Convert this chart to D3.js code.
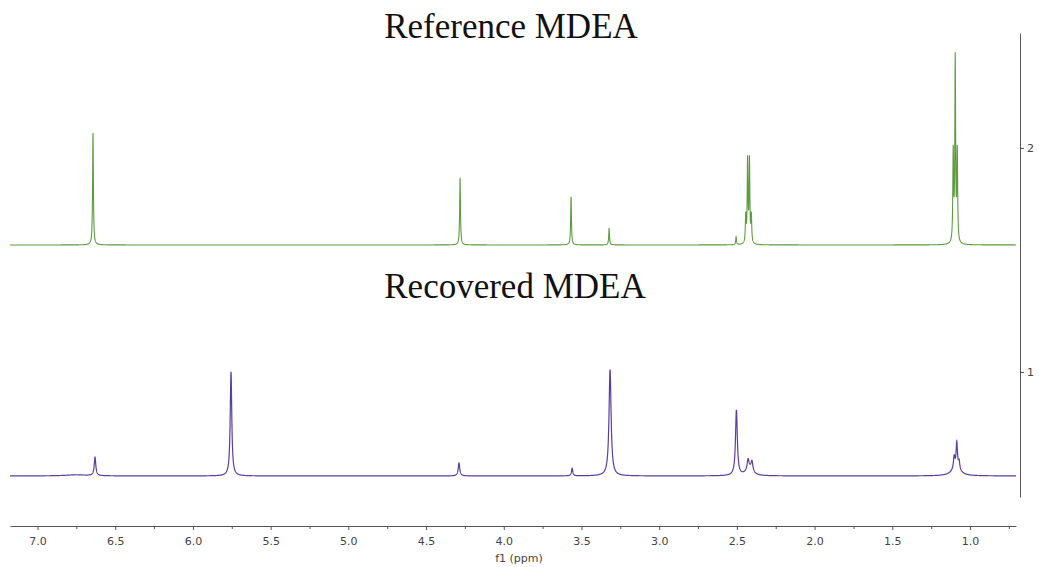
<html>
<head>
<script src="https://d3js.org/d3.v7.min.js"></script>
<style>
  body { margin: 0; background: white; }
  .title { font-family: "Liberation Serif", "Times New Roman", serif; font-size: 35px; fill: #111; }
  .axis text { font-family: "DejaVu Sans", Verdana, sans-serif; font-size: 11px; fill: #444; }
  .axis path, .axis line { stroke: #555; }
</style>
</head>
<body>
<svg width="1039" height="567"></svg>
<script>
// peak lists (ppm, height in right-axis units, half width in ppm)
var refPpm    = [6.643, 4.281, 3.567, 3.322, 2.505, 2.443, 2.431, 2.419, 2.407, 1.108, 1.095, 1.082];
var refHeight = [0.50, 0.30, 0.215, 0.075, 0.035, 0.12, 0.37, 0.37, 0.12, 0.40, 0.82, 0.40];
var refWidth  = [0.003, 0.003, 0.003, 0.003, 0.003, 0.003, 0.003, 0.003, 0.003, 0.003, 0.003, 0.003];
var refBase = 1.567;

var recPpm    = [6.630, 5.755, 4.288, 3.560, 3.316, 2.503, 2.428, 2.403, 2.420, 1.102, 1.085, 1.070, 1.090, 6.75];
var recHeight = [0.082, 0.465, 0.058, 0.034, 0.475, 0.292, 0.045, 0.045, 0.030, 0.050, 0.110, 0.035, 0.040, 0.005];
var recWidth  = [0.006, 0.006, 0.006, 0.005, 0.008, 0.007, 0.007, 0.007, 0.025, 0.005, 0.005, 0.005, 0.030, 0.08];
var recBase = 0.536;

var xTicks = [7.0, 6.5, 6.0, 5.5, 5.0, 4.5, 4.0, 3.5, 3.0, 2.5, 2.0, 1.5, 1.0];
var xMinor = [7.25, 6.75, 6.25, 5.75, 5.25, 4.75, 4.25, 3.75, 3.25, 2.75, 2.25, 1.75, 1.25, 0.75];
var yTicks = [1, 2];
var titles = ["Reference MDEA", "Recovered MDEA"];

var svg = d3.select("svg");
var x = d3.scaleLinear().domain([7.177, 0.704]).range([10, 1016]);
var y = d3.scaleLinear().domain([0.442, 2.513]).range([497, 33]);

function trace(ppm, height, width, base) {
    var pts = [];
    for (var p = 7.177; p >= 0.704; p -= 0.0005) {
        var v = base;
        for (var i = 0; i < ppm.length; i++) {
            var d = (p - ppm[i]) / width[i];
            v += height[i] / (1 + d * d);
        }
        pts.push([p, v]);
    }
    return pts;
}

var line = d3.line()
    .x(function(d) { return x(d[0]); })
    .y(function(d) { return y(d[1]); });

svg.append("path")
    .attr("d", line(trace(refPpm, refHeight, refWidth, refBase)))
    .attr("fill", "none")
    .attr("stroke", "#5f9c3f")
    .attr("stroke-width", 1.1);

svg.append("path")
    .attr("d", line(trace(recPpm, recHeight, recWidth, recBase)))
    .attr("fill", "none")
    .attr("stroke", "#5b3f9f")
    .attr("stroke-width", 1.2);

// bottom axis
var xAxis = svg.append("g")
    .attr("class", "axis")
    .attr("transform", "translate(0,526)")
    .call(d3.axisBottom(x).tickValues(xTicks).tickFormat(d3.format(".1f")).tickSize(4).tickSizeOuter(0));
xAxis.selectAll("text").attr("dy", "1.1em");
svg.append("g")
    .attr("class", "axis")
    .attr("transform", "translate(0,526)")
    .call(d3.axisBottom(x).tickValues(xMinor).tickFormat("").tickSize(3).tickSizeOuter(0))
    .select(".domain").remove();

svg.append("text")
    .attr("class", "axis")
    .attr("x", 519)
    .attr("y", 562)
    .attr("text-anchor", "middle")
    .style("font-family", "DejaVu Sans, Verdana, sans-serif")
    .style("font-size", "11px")
    .style("fill", "#444")
    .text("f1 (ppm)");

// right axis
svg.append("g")
    .attr("class", "axis")
    .attr("transform", "translate(1020,0)")
    .call(d3.axisRight(y).tickValues(yTicks).tickFormat(d3.format("d")).tickSize(4).tickSizeOuter(0));

svg.append("text").attr("class", "title")
    .attr("x", 511).attr("y", 38).attr("text-anchor", "middle")
    .text(titles[0]);
svg.append("text").attr("class", "title")
    .attr("x", 515).attr("y", 298).attr("text-anchor", "middle")
    .text(titles[1]);
</script>
</body>
</html>
